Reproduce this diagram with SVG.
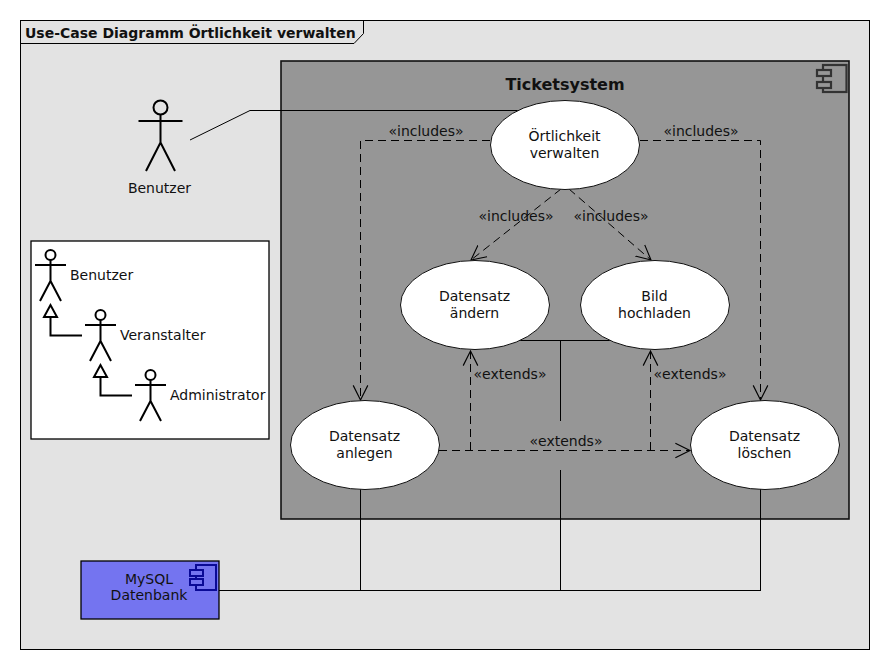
<svg xmlns="http://www.w3.org/2000/svg" width="890" height="670" viewBox="0 0 890 670">
<defs>
<style>
text{font-family:"DejaVu Sans",sans-serif;font-size:14px;fill:#111}
.c{text-anchor:middle}
.uc ellipse{fill:#fff;stroke:#111;stroke-width:1}
.actor{fill:none;stroke:#000;stroke-width:2}
.line{fill:none;stroke:#000;stroke-width:1}
.dash{fill:none;stroke:#000;stroke-width:1;stroke-dasharray:8 5}
.gen{fill:none;stroke:#000;stroke-width:2}
</style>
<marker id="open" markerUnits="userSpaceOnUse" markerWidth="18" markerHeight="18" refX="13" refY="7" orient="auto" viewBox="0 0 16 14"><path d="M0 0.500L13 7L0 13.500" fill="none" stroke="#000" stroke-width="1"/></marker>
<g id="stick"><circle cx="0" cy="-10" r="5"/><path d="M0 -5V16M-15.500 0H15.500M-10.500 36L0 16L10.500 36"/></g>
</defs>
<rect width="890" height="670" fill="#fff"/>
<g id="frame"><rect x="20.500" y="20.500" width="849" height="629" fill="#e3e3e3" stroke="#000" stroke-width="1"/>
<path d="M20.500 43.500H354L363.500 33.500V20.500" fill="none" stroke="#000" stroke-width="1"/>
<text x="25" y="38" style="font-weight:bold">Use-Case Diagramm Örtlichkeit verwalten</text></g>
<g id="ticketsystem"><rect x="281" y="61" width="568" height="458" fill="#969696" stroke="#111" stroke-width="1.600"/>
<text x="565" y="90" class="c" style="font-weight:bold;font-size:16px">Ticketsystem</text>
<g fill="#969696" stroke="#333" stroke-width="2.200"><rect x="823" y="65" width="23.500" height="27"/><rect x="817" y="70" width="14" height="6"/><rect x="817" y="82" width="14" height="6"/></g></g>
<g id="connectors">
<path class="line" d="M190 140L250 110.500H520"/>
<path class="line" d="M520 340.500H610M560.500 340V421M560.500 470V590M360.500 489V590M760.500 489V590M219 590.500H761"/>
<path class="dash" d="M490 140.500H360.500V400" marker-end="url(#open)"/>
<path class="dash" d="M640 140.500H760.500V400" marker-end="url(#open)"/>
<path class="dash" d="M561 189L471 260" marker-end="url(#open)"/>
<path class="dash" d="M569 189L651 260" marker-end="url(#open)"/>
<path class="dash" d="M439 450.500H690" marker-end="url(#open)"/>
<path class="dash" d="M470.500 450V351" marker-end="url(#open)"/>
<path class="dash" d="M650.500 450V351" marker-end="url(#open)"/>
<text x="426" y="136" class="c">«includes»</text>
<text x="701" y="136" class="c">«includes»</text>
<text x="516" y="221" class="c">«includes»</text>
<text x="611" y="221" class="c">«includes»</text>
<text x="510" y="379" class="c">«extends»</text>
<text x="690" y="379" class="c">«extends»</text>
<text x="566" y="446" class="c">«extends»</text>
</g>
<g id="uc-verwalten" class="uc"><ellipse cx="565" cy="145" rx="74.500" ry="44.500"/><text x="564.500" y="141" class="c">Örtlichkeit</text><text x="564.500" y="158" class="c">verwalten</text></g>
<g id="uc-aendern" class="uc"><ellipse cx="475" cy="305" rx="74.500" ry="44.500"/><text x="474.500" y="301" class="c">Datensatz</text><text x="474.500" y="318" class="c">ändern</text></g>
<g id="uc-hochladen" class="uc"><ellipse cx="655" cy="305" rx="74.500" ry="44.500"/><text x="654.500" y="301" class="c">Bild</text><text x="654.500" y="318" class="c">hochladen</text></g>
<g id="uc-anlegen" class="uc"><ellipse cx="365" cy="445" rx="74.500" ry="44.500"/><text x="364.500" y="441" class="c">Datensatz</text><text x="364.500" y="458" class="c">anlegen</text></g>
<g id="uc-loeschen" class="uc"><ellipse cx="765" cy="445" rx="74.500" ry="44.500"/><text x="764.500" y="441" class="c">Datensatz</text><text x="764.500" y="458" class="c">löschen</text></g>
<g id="actor-benutzer"><g class="actor"><circle cx="160.500" cy="107.500" r="7"/><path d="M160.500 114.500V142.500M138.500 121H182.500M146 171L160.500 142.500L175 171"/></g><text x="159.500" y="193" class="c">Benutzer</text></g>
<g id="legend"><rect x="31" y="241" width="238" height="198" fill="#fff" stroke="#000" stroke-width="1.300"/>
<use href="#stick" x="50.500" y="265" class="actor"/>
<use href="#stick" x="100.500" y="325" class="actor"/>
<use href="#stick" x="150.500" y="385" class="actor"/>
<path class="gen" d="M50.500 305L44 317H57ZM50.500 317V335.500H82M100.500 365L94 377H107ZM100.500 377V395.500H132"/>
<text x="70" y="280">Benutzer</text>
<text x="120" y="340">Veranstalter</text>
<text x="170" y="400">Administrator</text></g>
<g id="mysql"><rect x="81" y="561" width="138" height="58" fill="#7474f0" stroke="#000" stroke-width="1.300"/>
<text x="149" y="584" class="c">MySQL</text><text x="149" y="600" class="c">Datenbank</text>
<g fill="#7474f0" stroke="#0a0a96" stroke-width="2"><rect x="196" y="565" width="20" height="25"/><rect x="190" y="570" width="13" height="6"/><rect x="190" y="579" width="13" height="6"/></g></g>
</svg>
